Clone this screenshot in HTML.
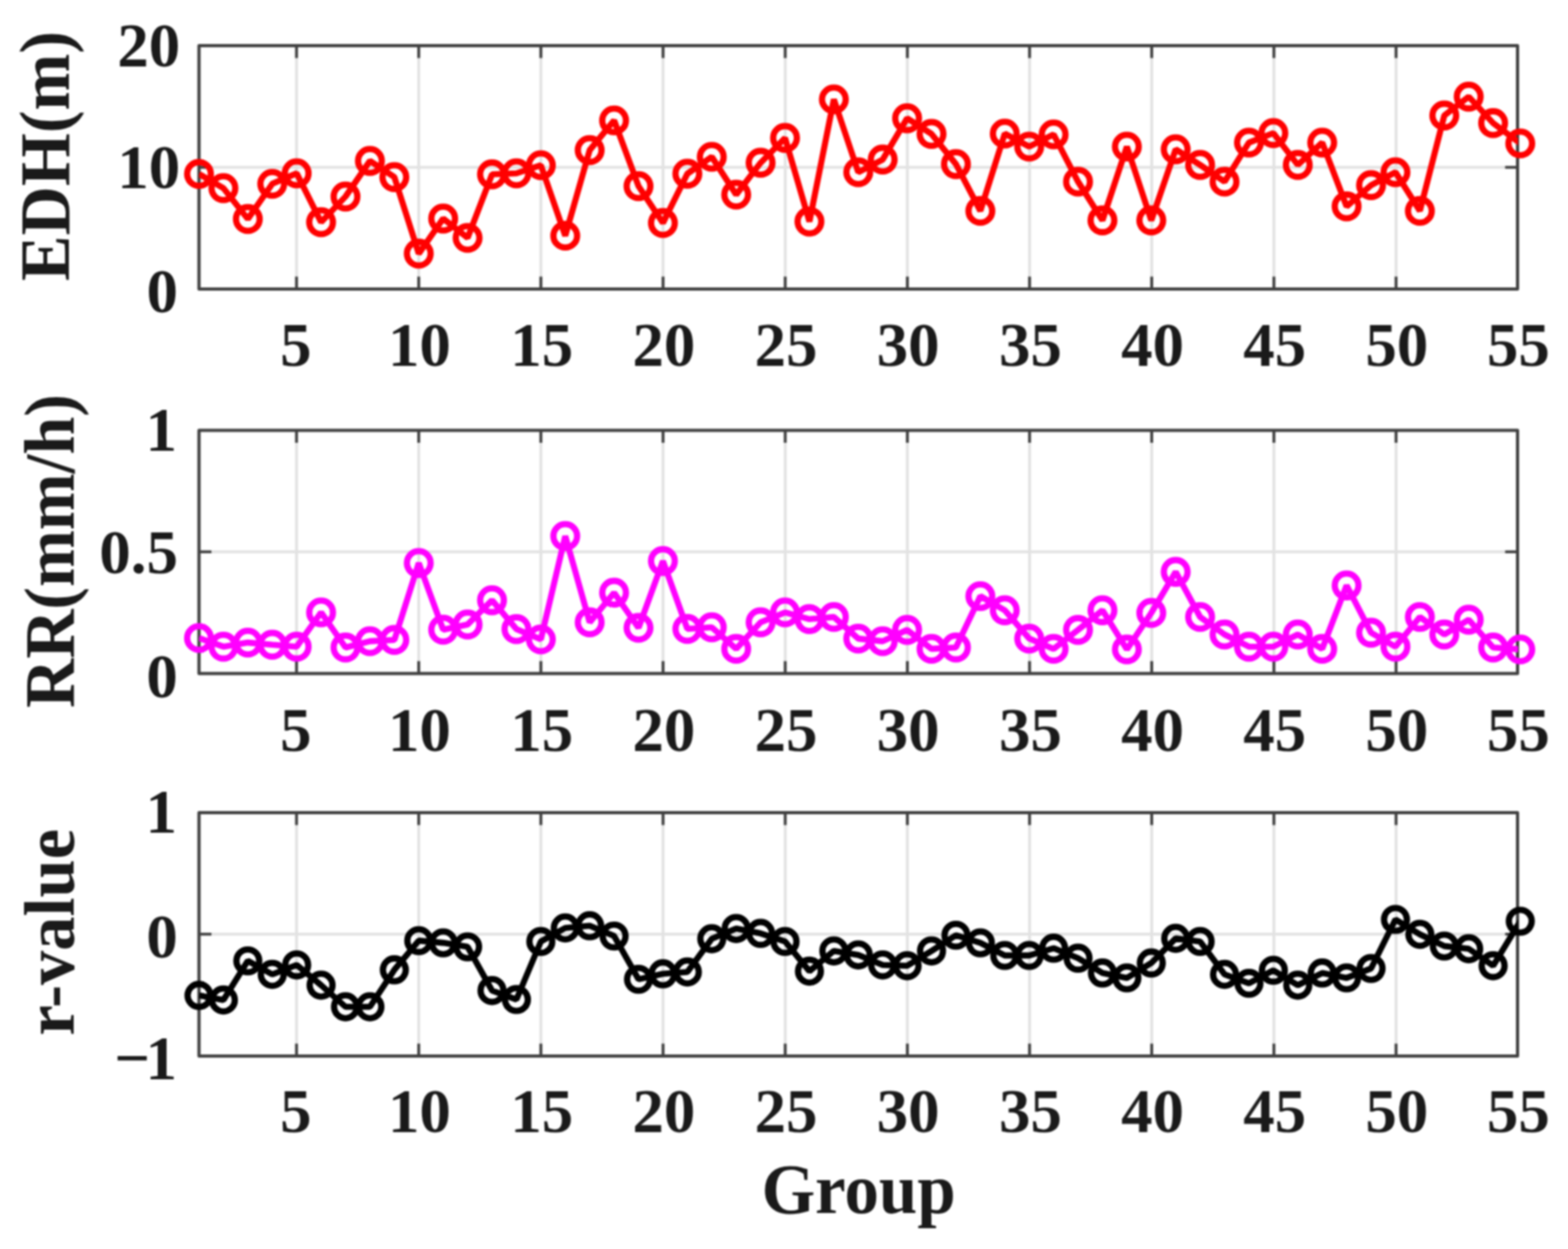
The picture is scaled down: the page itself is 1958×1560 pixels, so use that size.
<!DOCTYPE html>
<html lang="en"><head><meta charset="utf-8">
<title>EDH, RR and r-value by Group</title>
<style>
html,body{margin:0;padding:0;background:#fff;}
body{width:1958px;height:1560px;overflow:hidden;}
svg{display:block;filter:blur(1.3px);}
text{font-family:"Liberation Serif","Times New Roman",Times,serif;font-weight:bold;fill:#1a1a1a;}
.t{font-size:78.5px;}
.l{font-size:88.5px;}
.ax{fill:none;stroke:#404040;stroke-width:4;stroke-linejoin:round;}
.tk{stroke:#404040;stroke-width:3.6;fill:none;}
.gr{stroke:#e2e2e2;stroke-width:3.6;fill:none;}
.ln{fill:none;stroke-width:7.6;stroke-linejoin:bevel;stroke-linecap:butt;}
.mk{fill:none;stroke-width:7.8;}
</style></head><body>
<svg width="1958" height="1560" viewBox="0 0 1958 1560">
<rect x="0" y="0" width="1958" height="1560" fill="#ffffff"/>
<defs>
<clipPath id="c0"><rect x="248.5" y="57" width="1647.1" height="303.9"/></clipPath>
<clipPath id="c1"><rect x="248.5" y="537.4" width="1647.1" height="303.8"/></clipPath>
<clipPath id="c2"><rect x="248.5" y="1014.9" width="1647.1" height="304"/></clipPath>
</defs>
<g id="plot1">
<path class="gr" d="M370.3 57V360.9M522.86 57V360.9M675.41 57V360.9M827.97 57V360.9M980.52 57V360.9M1133.08 57V360.9M1285.63 57V360.9M1438.19 57V360.9M1590.74 57V360.9M1743.3 57V360.9M248.5 208.95H1895"/>
<path class="tk" d="M370.3 360.9v-15.5M370.3 57v15.5M522.86 360.9v-15.5M522.86 57v15.5M675.41 360.9v-15.5M675.41 57v15.5M827.97 360.9v-15.5M827.97 57v15.5M980.52 360.9v-15.5M980.52 57v15.5M1133.08 360.9v-15.5M1133.08 57v15.5M1285.63 360.9v-15.5M1285.63 57v15.5M1438.19 360.9v-15.5M1438.19 57v15.5M1590.74 360.9v-15.5M1590.74 57v15.5M1743.3 360.9v-15.5M1743.3 57v15.5M248.5 208.95h15.5M1895 208.95h-15.5"/>
<rect class="ax" x="248.5" y="57" width="1646.5" height="303.9"/>
<polyline class="ln" stroke="#ff0000" stroke-width="7.6" clip-path="url(#c0)" points="248.5,217.3 278.99,235 309.48,273.5 339.97,229.6 370.46,216.5 400.95,277.5 431.44,245.5 461.94,201 492.43,221.2 522.92,316.8 553.41,273 583.9,297.1 614.39,217.8 644.88,216.5 675.37,206.4 705.86,294.4 736.35,187.5 766.84,150.4 797.33,232.5 827.82,278.5 858.31,217 888.81,195.9 919.3,243.1 949.79,203.3 980.28,172.3 1010.77,276.8 1041.26,124.1 1071.75,215.1 1102.24,199.3 1132.73,147.7 1163.22,167.3 1193.71,205 1224.2,263.4 1254.69,166.9 1285.19,183.1 1315.68,167.9 1346.17,226.9 1376.66,275.2 1407.15,183.1 1437.64,275.2 1468.13,186.5 1498.62,206 1529.11,226.9 1559.6,178.1 1590.09,166.3 1620.58,206 1651.07,178.1 1681.56,257.8 1712.06,231.3 1742.55,215.1 1773.04,263.4 1803.53,144.3 1834.02,120.7 1864.51,153.8 1898.4,179.1"/>
<g class="mk" stroke="#ff0000" stroke-width="8">
<circle cx="248.5" cy="217.3" r="14.8"/>
<circle cx="278.99" cy="235" r="14.8"/>
<circle cx="309.48" cy="273.5" r="14.8"/>
<circle cx="339.97" cy="229.6" r="14.8"/>
<circle cx="370.46" cy="216.5" r="14.8"/>
<circle cx="400.95" cy="277.5" r="14.8"/>
<circle cx="431.44" cy="245.5" r="14.8"/>
<circle cx="461.94" cy="201" r="14.8"/>
<circle cx="492.43" cy="221.2" r="14.8"/>
<circle cx="522.92" cy="316.8" r="14.8"/>
<circle cx="553.41" cy="273" r="14.8"/>
<circle cx="583.9" cy="297.1" r="14.8"/>
<circle cx="614.39" cy="217.8" r="14.8"/>
<circle cx="644.88" cy="216.5" r="14.8"/>
<circle cx="675.37" cy="206.4" r="14.8"/>
<circle cx="705.86" cy="294.4" r="14.8"/>
<circle cx="736.35" cy="187.5" r="14.8"/>
<circle cx="766.84" cy="150.4" r="14.8"/>
<circle cx="797.33" cy="232.5" r="14.8"/>
<circle cx="827.82" cy="278.5" r="14.8"/>
<circle cx="858.31" cy="217" r="14.8"/>
<circle cx="888.81" cy="195.9" r="14.8"/>
<circle cx="919.3" cy="243.1" r="14.8"/>
<circle cx="949.79" cy="203.3" r="14.8"/>
<circle cx="980.28" cy="172.3" r="14.8"/>
<circle cx="1010.77" cy="276.8" r="14.8"/>
<circle cx="1041.26" cy="124.1" r="14.8"/>
<circle cx="1071.75" cy="215.1" r="14.8"/>
<circle cx="1102.24" cy="199.3" r="14.8"/>
<circle cx="1132.73" cy="147.7" r="14.8"/>
<circle cx="1163.22" cy="167.3" r="14.8"/>
<circle cx="1193.71" cy="205" r="14.8"/>
<circle cx="1224.2" cy="263.4" r="14.8"/>
<circle cx="1254.69" cy="166.9" r="14.8"/>
<circle cx="1285.19" cy="183.1" r="14.8"/>
<circle cx="1315.68" cy="167.9" r="14.8"/>
<circle cx="1346.17" cy="226.9" r="14.8"/>
<circle cx="1376.66" cy="275.2" r="14.8"/>
<circle cx="1407.15" cy="183.1" r="14.8"/>
<circle cx="1437.64" cy="275.2" r="14.8"/>
<circle cx="1468.13" cy="186.5" r="14.8"/>
<circle cx="1498.62" cy="206" r="14.8"/>
<circle cx="1529.11" cy="226.9" r="14.8"/>
<circle cx="1559.6" cy="178.1" r="14.8"/>
<circle cx="1590.09" cy="166.3" r="14.8"/>
<circle cx="1620.58" cy="206" r="14.8"/>
<circle cx="1651.07" cy="178.1" r="14.8"/>
<circle cx="1681.56" cy="257.8" r="14.8"/>
<circle cx="1712.06" cy="231.3" r="14.8"/>
<circle cx="1742.55" cy="215.1" r="14.8"/>
<circle cx="1773.04" cy="263.4" r="14.8"/>
<circle cx="1803.53" cy="144.3" r="14.8"/>
<circle cx="1834.02" cy="120.7" r="14.8"/>
<circle cx="1864.51" cy="153.8" r="14.8"/>
<circle cx="1898.4" cy="179.1" r="14.8"/>
</g>
<g class="t" text-anchor="middle">
<text x="369.4" y="457.4">5</text>
<text x="523.86" y="457.4">10</text>
<text x="676.41" y="457.4">15</text>
<text x="828.97" y="457.4">20</text>
<text x="981.52" y="457.4">25</text>
<text x="1134.08" y="457.4">30</text>
<text x="1286.63" y="457.4">35</text>
<text x="1439.19" y="457.4">40</text>
<text x="1591.74" y="457.4">45</text>
<text x="1744.3" y="457.4">50</text>
<text x="1896" y="457.4">55</text>
</g>
<g class="t" text-anchor="end">
<text x="225" y="83.2">20</text>
<text x="225" y="235.3">10</text>
<text x="222.3" y="389.7">0</text>
</g>
<text class="l" transform="translate(85.8 350.9) rotate(-90)" textLength="312.2" lengthAdjust="spacingAndGlyphs">EDH(m)</text>
</g>
<g id="plot2">
<path class="gr" d="M370.3 537.4V841.2M522.86 537.4V841.2M675.41 537.4V841.2M827.97 537.4V841.2M980.52 537.4V841.2M1133.08 537.4V841.2M1285.63 537.4V841.2M1438.19 537.4V841.2M1590.74 537.4V841.2M1743.3 537.4V841.2M248.5 689.2H1895"/>
<path class="tk" d="M370.3 841.2v-15.5M370.3 537.4v15.5M522.86 841.2v-15.5M522.86 537.4v15.5M675.41 841.2v-15.5M675.41 537.4v15.5M827.97 841.2v-15.5M827.97 537.4v15.5M980.52 841.2v-15.5M980.52 537.4v15.5M1133.08 841.2v-15.5M1133.08 537.4v15.5M1285.63 841.2v-15.5M1285.63 537.4v15.5M1438.19 841.2v-15.5M1438.19 537.4v15.5M1590.74 841.2v-15.5M1590.74 537.4v15.5M1743.3 841.2v-15.5M1743.3 537.4v15.5M248.5 689.2h15.5M1895 689.2h-15.5"/>
<rect class="ax" x="248.5" y="537.4" width="1646.5" height="303.8"/>
<polyline class="ln" stroke="#ff00ff" stroke-width="7.6" clip-path="url(#c1)" points="248.5,796.9 278.99,807.7 309.48,802.6 339.97,805.3 370.46,807.7 400.95,764.9 431.44,808.7 461.94,800.9 492.43,799.3 522.92,703.2 553.41,786.5 583.9,780 614.39,749.7 644.88,785.8 675.37,798.6 705.86,669.5 736.35,777.3 766.84,740.3 797.33,784.1 827.82,700.8 858.31,785.5 888.81,783.5 919.3,810.4 949.79,777.3 980.28,764.9 1010.77,773.3 1041.26,770.6 1071.75,797.6 1102.24,800.9 1132.73,786.8 1163.22,810.4 1193.71,808.7 1224.2,744.6 1254.69,762.2 1285.19,797.6 1315.68,810.4 1346.17,786.8 1376.66,762.2 1407.15,811.1 1437.64,765.5 1468.13,714.3 1498.62,770.6 1529.11,792.5 1559.6,807.7 1590.09,807.7 1620.58,792.5 1651.07,810.4 1681.56,731.2 1712.06,790.2 1742.55,807.7 1773.04,770.6 1803.53,792.5 1834.02,774 1864.51,808.7 1898.4,811.1"/>
<g class="mk" stroke="#ff00ff" stroke-width="8">
<circle cx="248.5" cy="796.9" r="14.8"/>
<circle cx="278.99" cy="807.7" r="14.8"/>
<circle cx="309.48" cy="802.6" r="14.8"/>
<circle cx="339.97" cy="805.3" r="14.8"/>
<circle cx="370.46" cy="807.7" r="14.8"/>
<circle cx="400.95" cy="764.9" r="14.8"/>
<circle cx="431.44" cy="808.7" r="14.8"/>
<circle cx="461.94" cy="800.9" r="14.8"/>
<circle cx="492.43" cy="799.3" r="14.8"/>
<circle cx="522.92" cy="703.2" r="14.8"/>
<circle cx="553.41" cy="786.5" r="14.8"/>
<circle cx="583.9" cy="780" r="14.8"/>
<circle cx="614.39" cy="749.7" r="14.8"/>
<circle cx="644.88" cy="785.8" r="14.8"/>
<circle cx="675.37" cy="798.6" r="14.8"/>
<circle cx="705.86" cy="669.5" r="14.8"/>
<circle cx="736.35" cy="777.3" r="14.8"/>
<circle cx="766.84" cy="740.3" r="14.8"/>
<circle cx="797.33" cy="784.1" r="14.8"/>
<circle cx="827.82" cy="700.8" r="14.8"/>
<circle cx="858.31" cy="785.5" r="14.8"/>
<circle cx="888.81" cy="783.5" r="14.8"/>
<circle cx="919.3" cy="810.4" r="14.8"/>
<circle cx="949.79" cy="777.3" r="14.8"/>
<circle cx="980.28" cy="764.9" r="14.8"/>
<circle cx="1010.77" cy="773.3" r="14.8"/>
<circle cx="1041.26" cy="770.6" r="14.8"/>
<circle cx="1071.75" cy="797.6" r="14.8"/>
<circle cx="1102.24" cy="800.9" r="14.8"/>
<circle cx="1132.73" cy="786.8" r="14.8"/>
<circle cx="1163.22" cy="810.4" r="14.8"/>
<circle cx="1193.71" cy="808.7" r="14.8"/>
<circle cx="1224.2" cy="744.6" r="14.8"/>
<circle cx="1254.69" cy="762.2" r="14.8"/>
<circle cx="1285.19" cy="797.6" r="14.8"/>
<circle cx="1315.68" cy="810.4" r="14.8"/>
<circle cx="1346.17" cy="786.8" r="14.8"/>
<circle cx="1376.66" cy="762.2" r="14.8"/>
<circle cx="1407.15" cy="811.1" r="14.8"/>
<circle cx="1437.64" cy="765.5" r="14.8"/>
<circle cx="1468.13" cy="714.3" r="14.8"/>
<circle cx="1498.62" cy="770.6" r="14.8"/>
<circle cx="1529.11" cy="792.5" r="14.8"/>
<circle cx="1559.6" cy="807.7" r="14.8"/>
<circle cx="1590.09" cy="807.7" r="14.8"/>
<circle cx="1620.58" cy="792.5" r="14.8"/>
<circle cx="1651.07" cy="810.4" r="14.8"/>
<circle cx="1681.56" cy="731.2" r="14.8"/>
<circle cx="1712.06" cy="790.2" r="14.8"/>
<circle cx="1742.55" cy="807.7" r="14.8"/>
<circle cx="1773.04" cy="770.6" r="14.8"/>
<circle cx="1803.53" cy="792.5" r="14.8"/>
<circle cx="1834.02" cy="774" r="14.8"/>
<circle cx="1864.51" cy="808.7" r="14.8"/>
<circle cx="1898.4" cy="811.1" r="14.8"/>
</g>
<g class="t" text-anchor="middle">
<text x="369.4" y="937.7">5</text>
<text x="523.86" y="937.7">10</text>
<text x="676.41" y="937.7">15</text>
<text x="828.97" y="937.7">20</text>
<text x="981.52" y="937.7">25</text>
<text x="1134.08" y="937.7">30</text>
<text x="1286.63" y="937.7">35</text>
<text x="1439.19" y="937.7">40</text>
<text x="1591.74" y="937.7">45</text>
<text x="1744.3" y="937.7">50</text>
<text x="1896" y="937.7">55</text>
</g>
<g class="t" text-anchor="end">
<text x="221.1" y="562.8">1</text>
<text x="222.2" y="715.7">0.5</text>
<text x="221.9" y="870.9">0</text>
</g>
<text class="l" transform="translate(92 884.2) rotate(-90)" textLength="392" lengthAdjust="spacingAndGlyphs">RR(mm/h)</text>
</g>
<g id="plot3">
<path class="gr" d="M370.3 1014.9V1318.9M522.86 1014.9V1318.9M675.41 1014.9V1318.9M827.97 1014.9V1318.9M980.52 1014.9V1318.9M1133.08 1014.9V1318.9M1285.63 1014.9V1318.9M1438.19 1014.9V1318.9M1590.74 1014.9V1318.9M1743.3 1014.9V1318.9M248.5 1166.7H1895"/>
<path class="tk" d="M370.3 1318.9v-15.5M370.3 1014.9v15.5M522.86 1318.9v-15.5M522.86 1014.9v15.5M675.41 1318.9v-15.5M675.41 1014.9v15.5M827.97 1318.9v-15.5M827.97 1014.9v15.5M980.52 1318.9v-15.5M980.52 1014.9v15.5M1133.08 1318.9v-15.5M1133.08 1014.9v15.5M1285.63 1318.9v-15.5M1285.63 1014.9v15.5M1438.19 1318.9v-15.5M1438.19 1014.9v15.5M1590.74 1318.9v-15.5M1590.74 1014.9v15.5M1743.3 1318.9v-15.5M1743.3 1014.9v15.5M248.5 1166.7h15.5M1895 1166.7h-15.5"/>
<rect class="ax" x="248.5" y="1014.9" width="1646.5" height="304"/>
<polyline class="ln" stroke="#000000" stroke-width="7.2" clip-path="url(#c2)" points="248.5,1243.3 278.99,1249 309.48,1200.1 339.97,1217 370.46,1205.2 400.95,1230.5 431.44,1257.5 461.94,1257.5 492.43,1211.3 522.92,1174.9 553.41,1177.6 583.9,1182.6 614.39,1237.2 644.88,1248.4 675.37,1175.9 705.86,1159 736.35,1156.3 766.84,1169.1 797.33,1223.1 827.82,1216.3 858.31,1214 888.81,1172.5 919.3,1159.7 949.79,1165.8 980.28,1175.9 1010.77,1213 1041.26,1187.7 1071.75,1192.7 1102.24,1205.2 1132.73,1206.2 1163.22,1187.7 1193.71,1168.1 1224.2,1177.6 1254.69,1193.4 1285.19,1193.4 1315.68,1184.3 1346.17,1196.8 1376.66,1215.3 1407.15,1221.4 1437.64,1202.8 1468.13,1172 1498.62,1175.9 1529.11,1217 1559.6,1228.1 1590.09,1211.9 1620.58,1230.5 1651.07,1215.3 1681.56,1221.4 1712.06,1209.6 1742.55,1148.4 1773.04,1167 1803.53,1181.6 1834.02,1185 1864.51,1206.2 1898.4,1150.6"/>
<g class="mk" stroke="#000000" stroke-width="7.8">
<circle cx="248.5" cy="1243.3" r="14.3"/>
<circle cx="278.99" cy="1249" r="14.3"/>
<circle cx="309.48" cy="1200.1" r="14.3"/>
<circle cx="339.97" cy="1217" r="14.3"/>
<circle cx="370.46" cy="1205.2" r="14.3"/>
<circle cx="400.95" cy="1230.5" r="14.3"/>
<circle cx="431.44" cy="1257.5" r="14.3"/>
<circle cx="461.94" cy="1257.5" r="14.3"/>
<circle cx="492.43" cy="1211.3" r="14.3"/>
<circle cx="522.92" cy="1174.9" r="14.3"/>
<circle cx="553.41" cy="1177.6" r="14.3"/>
<circle cx="583.9" cy="1182.6" r="14.3"/>
<circle cx="614.39" cy="1237.2" r="14.3"/>
<circle cx="644.88" cy="1248.4" r="14.3"/>
<circle cx="675.37" cy="1175.9" r="14.3"/>
<circle cx="705.86" cy="1159" r="14.3"/>
<circle cx="736.35" cy="1156.3" r="14.3"/>
<circle cx="766.84" cy="1169.1" r="14.3"/>
<circle cx="797.33" cy="1223.1" r="14.3"/>
<circle cx="827.82" cy="1216.3" r="14.3"/>
<circle cx="858.31" cy="1214" r="14.3"/>
<circle cx="888.81" cy="1172.5" r="14.3"/>
<circle cx="919.3" cy="1159.7" r="14.3"/>
<circle cx="949.79" cy="1165.8" r="14.3"/>
<circle cx="980.28" cy="1175.9" r="14.3"/>
<circle cx="1010.77" cy="1213" r="14.3"/>
<circle cx="1041.26" cy="1187.7" r="14.3"/>
<circle cx="1071.75" cy="1192.7" r="14.3"/>
<circle cx="1102.24" cy="1205.2" r="14.3"/>
<circle cx="1132.73" cy="1206.2" r="14.3"/>
<circle cx="1163.22" cy="1187.7" r="14.3"/>
<circle cx="1193.71" cy="1168.1" r="14.3"/>
<circle cx="1224.2" cy="1177.6" r="14.3"/>
<circle cx="1254.69" cy="1193.4" r="14.3"/>
<circle cx="1285.19" cy="1193.4" r="14.3"/>
<circle cx="1315.68" cy="1184.3" r="14.3"/>
<circle cx="1346.17" cy="1196.8" r="14.3"/>
<circle cx="1376.66" cy="1215.3" r="14.3"/>
<circle cx="1407.15" cy="1221.4" r="14.3"/>
<circle cx="1437.64" cy="1202.8" r="14.3"/>
<circle cx="1468.13" cy="1172" r="14.3"/>
<circle cx="1498.62" cy="1175.9" r="14.3"/>
<circle cx="1529.11" cy="1217" r="14.3"/>
<circle cx="1559.6" cy="1228.1" r="14.3"/>
<circle cx="1590.09" cy="1211.9" r="14.3"/>
<circle cx="1620.58" cy="1230.5" r="14.3"/>
<circle cx="1651.07" cy="1215.3" r="14.3"/>
<circle cx="1681.56" cy="1221.4" r="14.3"/>
<circle cx="1712.06" cy="1209.6" r="14.3"/>
<circle cx="1742.55" cy="1148.4" r="14.3"/>
<circle cx="1773.04" cy="1167" r="14.3"/>
<circle cx="1803.53" cy="1181.6" r="14.3"/>
<circle cx="1834.02" cy="1185" r="14.3"/>
<circle cx="1864.51" cy="1206.2" r="14.3"/>
<circle cx="1898.4" cy="1150.6" r="14.3"/>
</g>
<g class="t" text-anchor="middle">
<text x="369.4" y="1414.3">5</text>
<text x="523.86" y="1414.3">10</text>
<text x="676.41" y="1414.3">15</text>
<text x="828.97" y="1414.3">20</text>
<text x="981.52" y="1414.3">25</text>
<text x="1134.08" y="1414.3">30</text>
<text x="1286.63" y="1414.3">35</text>
<text x="1439.19" y="1414.3">40</text>
<text x="1591.74" y="1414.3">45</text>
<text x="1744.3" y="1414.3">50</text>
<text x="1896" y="1414.3">55</text>
</g>
<g class="t" text-anchor="end">
<text x="221.1" y="1040.1">1</text>
<text x="221.9" y="1195.8">0</text>
<text x="221.1" y="1347.7"><tspan text-anchor="start" x="142.7" y="1348.1">−</tspan><tspan text-anchor="end" x="221.1">1</tspan></text>
</g>
<text class="l" transform="translate(92 1293.6) rotate(-90)" textLength="258.3" lengthAdjust="spacingAndGlyphs">r-value</text>
</g>
<text class="l" x="950.9" y="1515.3" textLength="242.5" lengthAdjust="spacingAndGlyphs">Group</text>
</svg>
</body></html>
